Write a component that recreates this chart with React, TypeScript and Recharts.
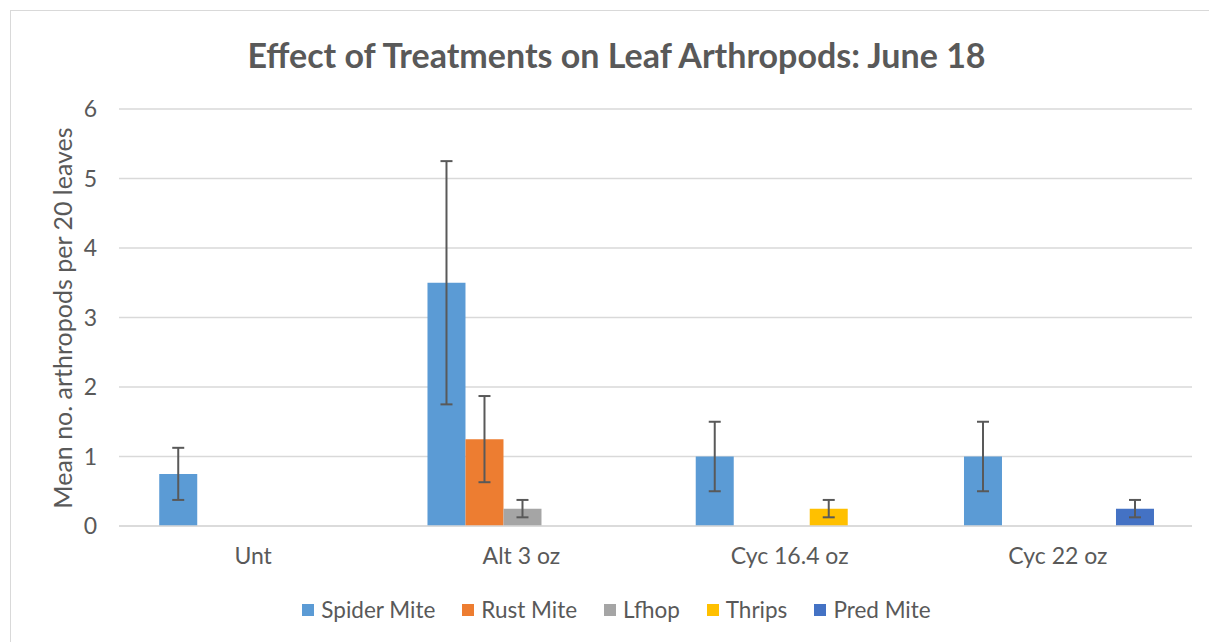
import { Bar, BarChart, CartesianGrid, ErrorBar, XAxis, YAxis } from "recharts";

const categories = ["Unt", "Alt 3 oz", "Cyc 16.4 oz", "Cyc 22 oz"];
const yTicks = [0, 1, 2, 3, 4, 5, 6];

const spiderMite = [0.75, 3.5, 1, 1];
const spiderMiteErr = [0.375, 1.75, 0.5, 0.5];
const rustMite = [0, 1.25, 0, 0];
const rustMiteErr = [0, 0.62, 0, 0];
const lfhop = [0, 0.25, 0, 0];
const lfhopErr = [0, 0.125, 0, 0];
const thrips = [0, 0, 0.25, 0];
const thripsErr = [0, 0, 0.125, 0];
const predMite = [0, 0, 0, 0.25];
const predMiteErr = [0, 0, 0, 0.125];

const series = [
  { key: "spider", name: "Spider Mite", color: "#5B9BD5", values: spiderMite, errors: spiderMiteErr },
  { key: "rust", name: "Rust Mite", color: "#ED7D31", values: rustMite, errors: rustMiteErr },
  { key: "lfhop", name: "Lfhop", color: "#A5A5A5", values: lfhop, errors: lfhopErr },
  { key: "thrips", name: "Thrips", color: "#FFC000", values: thrips, errors: thripsErr },
  { key: "pred", name: "Pred Mite", color: "#4472C4", values: predMite, errors: predMiteErr },
];

const data = categories.map((name, i) => {
  const row: Record<string, string | number> = { name };
  series.forEach((s) => {
    row[s.key] = s.values[i];
    row[s.key + "Err"] = s.errors[i];
  });
  return row;
});

const FONT = "Lato, 'Open Sans', sans-serif";
const TEXT = "#595959";

export default function App() {
  return (
    <div
      style={{
        position: "absolute",
        left: 0,
        top: 0,
        width: 1209,
        height: 642,
        overflow: "hidden",
        background: "#fff",
        fontFamily: FONT,
      }}
    >
      <div
        style={{
          position: "absolute",
          left: 10,
          top: 10,
          width: 1215,
          height: 700,
          border: "1.5px solid #d9d9d9",
        }}
      />
      <div
        style={{
          position: "absolute",
          left: 11,
          width: 1211,
          top: 33,
          textAlign: "center",
          fontSize: 34,
          fontWeight: 700,
          color: TEXT,
          lineHeight: "44px",
        }}
      >
        Effect of Treatments on Leaf Arthropods: June 18
      </div>
      <div
        style={{
          position: "absolute",
          left: 62,
          top: 318,
          transform: "translate(-50%, -50%) rotate(-90deg)",
          whiteSpace: "nowrap",
          fontSize: 25,
          color: TEXT,
        }}
      >
        Mean no. arthropods per 20 leaves
      </div>
      <div style={{ position: "absolute", left: 0, top: 0 }}>
        <BarChart
          width={1209}
          height={642}
          data={data}
          margin={{ top: 109, right: 17, left: 79, bottom: 86 }}
          barCategoryGap="15%"
          barGap={0}
        >
          <CartesianGrid vertical={false} stroke="#d9d9d9" strokeWidth={1.5} />
          <XAxis
            dataKey="name"
            height={30}
            axisLine={{ stroke: "#d9d9d9", strokeWidth: 1.5 }}
            tickLine={false}
            tickMargin={16}
            tick={{ fill: TEXT, fontSize: 23, fontFamily: FONT }}
          />
          <YAxis
            width={40}
            domain={[0, 6]}
            ticks={yTicks}
            axisLine={false}
            tickLine={false}
            tickMargin={16}
            tick={{ fill: TEXT, fontSize: 23, fontFamily: FONT }}
          />
          {series.map((s) => (
            <Bar key={s.key} dataKey={s.key} name={s.name} fill={s.color} isAnimationActive={false}>
              <ErrorBar
                dataKey={s.key + "Err"}
                width={6}
                stroke="#595959"
                strokeWidth={2}
                direction="y"
              />
            </Bar>
          ))}
        </BarChart>
      </div>
      <div
        style={{
          position: "absolute",
          left: 11,
          width: 1211,
          top: 595,
          display: "flex",
          justifyContent: "center",
          gap: 27,
          fontSize: 22.5,
          color: TEXT,
          lineHeight: "30px",
        }}
      >
        {series.map((s) => (
          <div key={s.key} style={{ display: "flex", alignItems: "center" }}>
            <span
              style={{ display: "inline-block", width: 12, height: 12, background: s.color, marginRight: 7 }}
            />
            {s.name}
          </div>
        ))}
      </div>
    </div>
  );
}
